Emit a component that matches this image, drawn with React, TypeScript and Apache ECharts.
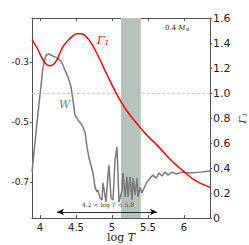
import React, { useEffect, useRef } from "react";
import * as echarts from "echarts";

const xTicks = [4, 4.5, 5, 5.5, 6];
const leftTicks = [-0.3, -0.5, -0.7];
const bandRange = [5.125, 5.4];
const arrowRange = [4.236, 5.625];
const arrowLevel = -0.8;

const gammaX = [3.889, 3.958, 4.042, 4.097, 4.139, 4.181, 4.236, 4.278, 4.319, 4.375, 4.444, 4.514, 4.569, 4.639, 4.708, 4.778, 4.847, 4.917, 4.986, 5.056, 5.125, 5.208, 5.292, 5.375, 5.458, 5.625, 5.806, 5.944, 6.042, 6.153, 6.264, 6.361];
const gammaY = [1.427, 1.362, 1.266, 1.226, 1.218, 1.226, 1.266, 1.322, 1.37, 1.411, 1.451, 1.475, 1.475, 1.451, 1.403, 1.33, 1.25, 1.162, 1.081, 1.001, 0.929, 0.856, 0.792, 0.736, 0.679, 0.583, 0.47, 0.398, 0.35, 0.301, 0.269, 0.245];

const wX = [3.889, 3.958, 4.042, 4.083, 4.125, 4.181, 4.25, 4.306, 4.347, 4.389, 4.431, 4.458, 4.486, 4.528, 4.583, 4.625, 4.653, 4.681, 4.736, 4.764, 4.792, 4.806, 4.833, 4.861, 4.875, 4.917, 4.944, 4.958, 4.986, 5.014, 5.042, 5.069, 5.083, 5.097, 5.139, 5.153, 5.181, 5.208, 5.222, 5.25, 5.278, 5.292, 5.319, 5.347, 5.361, 5.389, 5.417, 5.431, 5.486, 5.528, 5.569, 5.611, 5.653, 5.694, 5.736, 5.778, 5.833, 5.889, 5.972, 6.083, 6.222, 6.361];
const wY = [-0.667, -0.503, -0.317, -0.277, -0.273, -0.28, -0.287, -0.303, -0.327, -0.35, -0.383, -0.427, -0.477, -0.493, -0.51, -0.533, -0.583, -0.62, -0.67, -0.717, -0.733, -0.727, -0.753, -0.76, -0.703, -0.767, -0.677, -0.643, -0.753, -0.76, -0.627, -0.583, -0.67, -0.767, -0.727, -0.67, -0.75, -0.683, -0.75, -0.683, -0.76, -0.687, -0.743, -0.687, -0.75, -0.717, -0.737, -0.727, -0.7, -0.687, -0.677, -0.687, -0.67, -0.68, -0.667, -0.677, -0.667, -0.673, -0.667, -0.67, -0.667, -0.663];

const gammaData = gammaX.map((x, i) => [x, gammaY[i]]);
const wData = wX.map((x, i) => [x, wY[i]]);

const SPINE = "#555";

export default function App() {
  const ref = useRef<HTMLDivElement>(null);
  useEffect(() => {
    const chart = echarts.init(ref.current!, null, { renderer: "svg" });
    chart.setOption({
      animation: false,
      grid: { left: 32, right: 39, top: 18, bottom: 27, containLabel: false, outerBoundsMode: "none" },
      xAxis: [
        {
          type: "value",
          position: "bottom",
          min: 3.889,
          max: 6.361,
          axisLine: { lineStyle: { color: SPINE, width: 1 } },
          axisTick: { inside: true, length: 3, customValues: xTicks, lineStyle: { color: SPINE } },
          axisLabel: { customValues: xTicks, fontSize: 10, color: "#222", fontFamily: "DejaVu Sans", margin: 4 },
          splitLine: { show: false },
          name: "{a|log }{b|T}",
          nameLocation: "middle",
          nameGap: 14,
          nameMoveOverlap: false,
          nameTextStyle: {
            lineHeight: 11,
            rich: {
              a: { fontFamily: "DejaVu Serif", fontSize: 11, lineHeight: 11, color: "#222" },
              b: { fontFamily: "DejaVu Serif", fontStyle: "italic", fontSize: 11, lineHeight: 11, color: "#222" },
            },
          },
        },
        {
          type: "value",
          position: "top",
          min: 3.889,
          max: 6.361,
          axisLine: { show: true, lineStyle: { color: SPINE, width: 1 } },
          axisTick: { inside: true, length: 3, customValues: xTicks, lineStyle: { color: SPINE } },
          axisLabel: { show: false },
          splitLine: { show: false },
        },
      ],
      yAxis: [
        {
          type: "value",
          position: "left",
          min: -0.82,
          max: -0.153,
          axisLine: { show: true, lineStyle: { color: SPINE, width: 1 } },
          axisTick: { show: true, length: 2, customValues: leftTicks, lineStyle: { color: SPINE } },
          axisLabel: {
            customValues: leftTicks,
            fontSize: 9,
            color: "#222",
            fontFamily: "DejaVu Sans",
            margin: 3,
            formatter: (v: number) => v.toFixed(1),
          },
          splitLine: { show: false },
        },
        {
          type: "value",
          position: "right",
          min: 0,
          max: 1.6,
          interval: 0.2,
          axisLine: { show: true, lineStyle: { color: SPINE, width: 1 } },
          axisTick: { show: true, length: 2, lineStyle: { color: SPINE } },
          axisLabel: {
            fontSize: 11,
            color: "#222",
            fontFamily: "DejaVu Sans",
            margin: 3,
            formatter: (v: number) => (v === 0 ? "0" : v.toFixed(1)),
          },
          splitLine: { show: false },
          name: "{a|Γ}{s|1}",
          nameLocation: "middle",
          nameRotate: 90,
          nameGap: 27,
          nameMoveOverlap: false,
          nameTextStyle: {
            lineHeight: 10,
            rich: {
              a: { fontFamily: "DejaVu Serif", fontStyle: "italic", fontSize: 10, lineHeight: 10, color: "#222" },
              s: { fontFamily: "DejaVu Serif", fontStyle: "italic", fontSize: 6, lineHeight: 10, color: "#222", verticalAlign: "bottom" },
            },
          },
        },
      ],
      series: [
        {
          type: "line",
          xAxisIndex: 0,
          yAxisIndex: 1,
          data: [],
          z: 1,
          markArea: {
            silent: true,
            itemStyle: { color: "#b6c3bc" },
            data: [[{ xAxis: bandRange[0] }, { xAxis: bandRange[1] }]],
          },
          markLine: {
            silent: true,
            symbol: "none",
            label: { show: false },
            lineStyle: { color: "#bbb", type: [3, 2], width: 0.8 },
            data: [{ yAxis: 1.0 }],
          },
        },
        {
          type: "line",
          xAxisIndex: 0,
          yAxisIndex: 0,
          data: wData,
          showSymbol: false,
          z: 3,
          lineStyle: { color: "#7a7a7a", width: 1.5 },
          markLine: {
            silent: true,
            symbol: ["arrow", "arrow"],
            symbolSize: [5, 7],
            label: { show: false },
            lineStyle: { color: "#000", type: "solid", width: 0.8 },
            data: [[{ coord: [arrowRange[0], arrowLevel] }, { coord: [arrowRange[1], arrowLevel] }]],
          },
        },
        {
          type: "line",
          xAxisIndex: 0,
          yAxisIndex: 1,
          data: gammaData,
          smooth: true,
          showSymbol: false,
          z: 4,
          lineStyle: { color: "#ff0000", width: 1.5 },
        },
      ],
      graphic: [
        {
          type: "text",
          left: 97,
          top: 35,
          z: 100,
          style: {
            text: "{a|Γ}{s|1}",
            rich: {
              a: { fontFamily: "DejaVu Serif", fontStyle: "italic", fontSize: 11, fill: "#ff0000" },
              s: { fontFamily: "DejaVu Serif", fontStyle: "italic", fontSize: 7, fill: "#ff0000", verticalAlign: "bottom" },
            },
          },
        },
        {
          type: "text",
          left: 59,
          top: 99,
          z: 100,
          style: { text: "W", fontFamily: "DejaVu Serif", fontStyle: "italic", fontSize: 11, fill: "#7a7a7a" },
        },
        {
          type: "text",
          left: 165,
          top: 24,
          z: 100,
          style: {
            text: "{a|0.4 }{b|M}{s|⊙}",
            rich: {
              a: { fontFamily: "DejaVu Serif", fontSize: 7, fill: "#222" },
              b: { fontFamily: "DejaVu Serif", fontStyle: "italic", fontSize: 7, fill: "#222" },
              s: { fontFamily: "DejaVu Serif", fontSize: 5, fill: "#222", verticalAlign: "bottom" },
            },
          },
        },
        {
          type: "text",
          left: 82,
          top: 201,
          z: 100,
          style: {
            text: "{a|4.2 < log }{b|T}{a| < 5.8}",
            rich: {
              a: { fontFamily: "DejaVu Serif", fontSize: 6, fill: "#333" },
              b: { fontFamily: "DejaVu Serif", fontStyle: "italic", fontSize: 6, fill: "#333" },
            },
          },
        },
      ],
    });
    return () => chart.dispose();
  }, []);
  return <div ref={ref} style={{ position: "absolute", left: 0, top: 0, width: 249, height: 245 }} />;
}
